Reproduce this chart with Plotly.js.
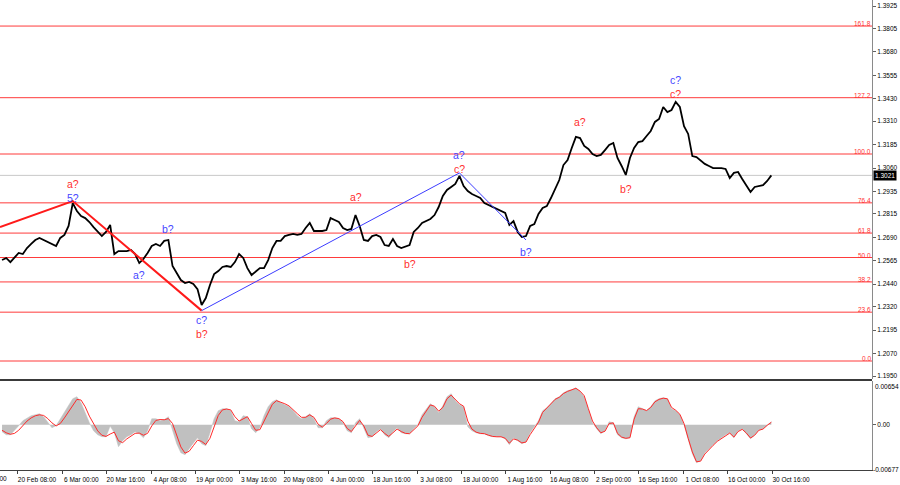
<!DOCTYPE html>
<html>
<head>
<meta charset="utf-8">
<script src="https://cdn.plot.ly/plotly-3.0.1.min.js"></script>
<style>
  html, body { margin: 0; padding: 0; background: #fff; }
  #chart { width: 900px; height: 485px; }
</style>
</head>
<body>
<div id="chart"></div>
<script>
// ---------- DATA ----------
// daily closes, one per trading day starting 2024-02-14
const close = [
1.2569,1.2580,1.2558,1.2585,1.2607,1.2601,1.2633,1.2655,1.2676,1.2687,
1.2676,1.2665,1.2655,1.2644,1.2687,1.2703,1.2751,1.2873,1.2831,1.2804,
1.2793,1.2772,1.2745,1.2719,1.2697,1.2719,1.2756,1.2601,1.2617,1.2617,
1.2617,1.2623,1.2601,1.2553,1.2575,1.2607,1.2644,1.2655,1.2644,1.2671,
1.2676,1.2537,1.2500,1.2462,1.2446,1.2452,1.2441,1.2414,1.2329,1.2366,
1.2436,1.2494,1.2510,1.2532,1.2537,1.2532,1.2558,1.2601,1.2580,1.2526,
1.2489,1.2510,1.2526,1.2526,1.2569,1.2633,1.2671,1.2671,1.2697,1.2703,
1.2708,1.2703,1.2708,1.2740,1.2767,1.2724,1.2724,1.2724,1.2729,1.2793,
1.2783,1.2772,1.2740,1.2729,1.2735,1.2809,1.2751,1.2676,1.2671,1.2697,
1.2703,1.2692,1.2649,1.2644,1.2681,1.2644,1.2633,1.2639,1.2649,1.2719,
1.2740,1.2767,1.2777,1.2788,1.2809,1.2852,1.2911,1.2943,1.2959,1.2975,
1.3018,1.2964,1.2937,1.2921,1.2911,1.2900,1.2873,1.2863,1.2852,1.2841,
1.2831,1.2820,1.2756,1.2777,1.2719,1.2692,1.2697,1.2751,1.2761,1.2815,
1.2847,1.2857,1.2900,1.2953,1.2996,1.3076,1.3103,1.3167,1.3226,1.3220,
1.3178,1.3162,1.3135,1.3124,1.3130,1.3156,1.3183,1.3194,1.3114,1.3071,
1.3023,1.3114,1.3167,1.3199,1.3204,1.3231,1.3258,1.3306,1.3322,1.3386,
1.3359,1.3370,1.3413,1.3386,1.3284,1.3242,1.3124,1.3119,1.3098,1.3082,
1.3071,1.3060,1.3060,1.3060,1.3055,1.3007,1.3034,1.3039,1.3002,1.2969,
1.2932,1.2959,1.2964,1.2969,1.2991,1.3021
];
const firstDay = '2024-02-14';
const lastPrice = 1.3021;

// MACD histogram and signal line
const macdHist = [
-0.00104,-0.00150,-0.00150,-0.00090,-0.00015,0.00060,0.00104,0.00135,0.00150,0.00164,
0.00120,0.00030,-0.00045,-0.00015,0.00090,0.00179,0.00284,0.00389,0.00419,0.00329,
0.00179,0.00030,-0.00090,-0.00150,-0.00179,-0.00179,-0.00020,-0.00120,-0.00329,-0.00239,
-0.00179,-0.00150,-0.00104,-0.00135,-0.00195,-0.00090,0.00090,0.00090,0.00060,0.00075,
0.00120,-0.00090,-0.00284,-0.00419,-0.00449,-0.00359,-0.00270,-0.00195,-0.00284,-0.00314,
-0.00120,0.00090,0.00210,0.00239,0.00239,0.00210,0.00060,0.00045,0.00135,0.00120,
-0.00060,-0.00120,-0.00045,0.00135,0.00270,0.00344,0.00374,0.00329,0.00299,0.00270,
0.00210,0.00135,0.00090,0.00120,0.00164,0.00090,-0.00045,-0.00045,0.00060,0.00104,
0.00104,0.00090,0.00030,-0.00090,-0.00120,0.00030,0.00090,-0.00060,-0.00195,-0.00179,
-0.00104,-0.00060,-0.00150,-0.00195,-0.00104,-0.00045,-0.00120,-0.00135,-0.00135,-0.00060,
0.00000,0.00150,0.00239,0.00314,0.00270,0.00179,0.00284,0.00419,0.00464,0.00359,
0.00299,0.00270,-0.00030,-0.00090,-0.00120,-0.00135,-0.00135,-0.00164,-0.00179,-0.00179,
-0.00179,-0.00210,-0.00299,-0.00195,-0.00239,-0.00284,-0.00254,-0.00120,-0.00030,0.00060,
0.00210,0.00254,0.00314,0.00389,0.00419,0.00478,0.00509,0.00524,0.00553,0.00494,
0.00419,0.00210,0.00030,-0.00060,-0.00135,-0.00090,0.00045,0.00030,-0.00150,-0.00195,
-0.00210,-0.00195,0.00120,0.00270,0.00239,0.00210,0.00270,0.00359,0.00389,0.00404,
0.00389,0.00239,0.00210,0.00150,0.00000,-0.00239,-0.00434,-0.00569,-0.00538,-0.00419,
-0.00359,-0.00299,-0.00239,-0.00195,-0.00150,-0.00120,-0.00195,-0.00090,-0.00060,-0.00135,
-0.00210,-0.00150,-0.00075,-0.00060,0.00000,0.00045
];
const macdSignal = [
-0.00083,-0.00120,-0.00143,-0.00129,-0.00083,-0.00009,0.00055,0.00102,0.00134,0.00148,
0.00139,0.00092,0.00028,-0.00018,0.00018,0.00102,0.00194,0.00305,0.00379,0.00369,
0.00268,0.00129,0.00009,-0.00092,-0.00157,-0.00175,-0.00139,-0.00111,-0.00240,-0.00268,
-0.00212,-0.00166,-0.00129,-0.00125,-0.00157,-0.00129,-0.00018,0.00065,0.00078,0.00074,
0.00092,0.00018,-0.00166,-0.00332,-0.00425,-0.00397,-0.00314,-0.00231,-0.00249,-0.00296,
-0.00203,-0.00028,0.00139,0.00222,0.00235,0.00222,0.00120,0.00055,0.00092,0.00120,
0.00018,-0.00083,-0.00074,0.00055,0.00194,0.00305,0.00360,0.00342,0.00314,0.00282,
0.00231,0.00166,0.00111,0.00111,0.00148,0.00111,0.00009,-0.00037,0.00018,0.00083,
0.00102,0.00092,0.00046,-0.00055,-0.00102,-0.00018,0.00065,-0.00018,-0.00157,-0.00175,
-0.00120,-0.00074,-0.00129,-0.00175,-0.00120,-0.00065,-0.00102,-0.00129,-0.00134,-0.00078,
-0.00018,0.00111,0.00212,0.00296,0.00277,0.00203,0.00259,0.00388,0.00443,0.00379,
0.00314,0.00277,0.00055,-0.00065,-0.00111,-0.00129,-0.00134,-0.00157,-0.00175,-0.00180,
-0.00180,-0.00203,-0.00277,-0.00212,-0.00231,-0.00272,-0.00259,-0.00148,-0.00055,0.00037,
0.00185,0.00245,0.00305,0.00379,0.00411,0.00466,0.00499,0.00517,0.00545,0.00503,
0.00434,0.00240,0.00055,-0.00046,-0.00120,-0.00097,0.00018,0.00028,-0.00129,-0.00185,
-0.00203,-0.00194,0.00083,0.00240,0.00235,0.00212,0.00259,0.00342,0.00379,0.00397,
0.00388,0.00259,0.00217,0.00157,0.00018,-0.00203,-0.00406,-0.00554,-0.00545,-0.00439,
-0.00369,-0.00309,-0.00249,-0.00203,-0.00157,-0.00125,-0.00185,-0.00102,-0.00069,-0.00125,
-0.00199,-0.00157,-0.00083,-0.00065,-0.00009,0.00037
];

// Fibonacci grid
const fibRatios = [0.0, 23.6, 38.2, 50.0, 61.8, 76.4, 100.0, 127.2, 161.8];
const fibLow = 1.2030;
const fibHigh = 1.3135;

// price axis labels
const priceTicks = [1.3925,1.3805,1.3680,1.3555,1.3430,1.3310,1.3185,1.3060,1.2935,1.2815,1.2690,1.2565,1.2440,1.2320,1.2195,1.2070,1.1950];

// time axis labels
const timeTicks = ['2024-02-20 08:00','2024-03-06 00:00','2024-03-20 16:00','2024-04-04 08:00','2024-04-19 00:00','2024-05-03 16:00','2024-05-20 08:00','2024-06-04 00:00','2024-06-18 16:00','2024-07-03 08:00','2024-07-18 00:00','2024-08-01 16:00','2024-08-16 08:00','2024-09-02 00:00','2024-09-16 16:00','2024-10-01 08:00','2024-10-16 00:00','2024-10-30 16:00'];
const timeLabels = ['20 Feb 08:00','6 Mar 00:00','20 Mar 16:00','4 Apr 08:00','19 Apr 00:00','3 May 16:00','20 May 08:00','4 Jun 00:00','18 Jun 16:00','3 Jul 08:00','18 Jul 00:00','1 Aug 16:00','16 Aug 08:00','2 Sep 00:00','16 Sep 16:00','1 Oct 08:00','16 Oct 00:00','30 Oct 16:00'];

// wave pivots (index into the daily series, price)
const redWaveIdx = [17, 48];
const redWavePrice = [1.2745, 1.2884, 1.2299];
const blueWaveIdx = [48, 110, 126];
const blueWavePrice = [1.2299, 1.3034, 1.2676];

// ---------- build ----------
function tradingDays(start, n) {
  const out = [];
  const d = new Date(start + 'T12:00:00Z');
  while (out.length < n) {
    const wd = d.getUTCDay();
    if (wd !== 0 && wd !== 6) out.push(d.toISOString().slice(0, 10) + ' 12:00');
    d.setUTCDate(d.getUTCDate() + 1);
  }
  return out;
}
const dates = tradingDays(firstDay, close.length);
const xRange = ['2024-02-14 00:10', '2024-12-03 17:00'];

const RED = '#ff2f2f', BLUE = '#4646ff';
const FAM = 'Liberation Sans, Arial, sans-serif';

// wave labels: [text, colour, day index, price, anchor]
const waveLabels = [
  ['a?', RED, 17, 1.2935, 'bottom'], ['5?', BLUE, 17, 1.2935, 'top'],
  ['a?', BLUE, 33, 1.2489, 'middle'], ['b?', BLUE, 40, 1.2735, 'middle'],
  ['c?', BLUE, 48, 1.2214, 'bottom'], ['b?', RED, 48, 1.2214, 'top'],
  ['a?', RED, 85, 1.2905, 'middle'], ['b?', RED, 98, 1.2548, 'middle'],
  ['a?', BLUE, 110, 1.3090, 'bottom'], ['c?', RED, 110, 1.3090, 'top'],
  ['b?', BLUE, 126, 1.2612, 'middle'], ['a?', RED, 139, 1.3306, 'middle'],
  ['b?', RED, 150, 1.2948, 'middle'], ['c?', BLUE, 162, 1.3493, 'bottom'], ['c?', RED, 162, 1.3493, 'top']
];

const traces = [
  { x: dates, y: macdHist, type: 'scatter', mode: 'lines', xaxis: 'x', yaxis: 'y2',
    fill: 'tozeroy', fillcolor: '#c0c0c0', line: { color: '#c0c0c0', width: 0.5 }, hoverinfo: 'skip' },
  { x: dates, y: macdSignal, type: 'scatter', mode: 'lines', xaxis: 'x', yaxis: 'y2',
    line: { color: '#ff2a2a', width: 1 }, hoverinfo: 'skip' },
  { x: dates, y: close, type: 'scatter', mode: 'lines', xaxis: 'x', yaxis: 'y',
    line: { color: '#000000', width: 1.8 }, hoverinfo: 'skip' },
  { x: [xRange[0], dates[redWaveIdx[0]], dates[redWaveIdx[1]]], y: redWavePrice,
    type: 'scatter', mode: 'lines', xaxis: 'x', yaxis: 'y',
    line: { color: '#ff1a1a', width: 2 }, hoverinfo: 'skip' },
  { x: blueWaveIdx.map(i => dates[i]), y: blueWavePrice,
    type: 'scatter', mode: 'lines', xaxis: 'x', yaxis: 'y',
    line: { color: '#3c3cff', width: 1 }, hoverinfo: 'skip' }
];

const shapes = [];
const annotations = [];
const axFont = { family: FAM, size: 6.5, color: '#000' };

fibRatios.forEach(r => {
  const lv = fibLow + (fibHigh - fibLow) * r / 100;
  shapes.push({ type: 'line', xref: 'paper', x0: 0, x1: 1, yref: 'y', y0: lv, y1: lv,
    line: { color: '#ff3b3b', width: 1 }, layer: 'below' });
  annotations.push({ text: r.toFixed(1), xref: 'paper', x: 1, xanchor: 'right', xshift: 0,
    yref: 'y', y: lv, yanchor: 'bottom', yshift: -2, showarrow: false, borderpad: 0,
    font: { family: FAM, size: 6.5, color: '#ff3030' } });
});
// current price line
shapes.push({ type: 'line', xref: 'paper', x0: 0, x1: 1, yref: 'y', y0: lastPrice, y1: lastPrice,
  line: { color: '#c8c8c8', width: 1 }, layer: 'below' });
// panel separator
shapes.push({ type: 'line', xref: 'paper', x0: 0, x1: 1, yref: 'paper', y0: 1 - 380 / 470, y1: 1 - 380 / 470,
  line: { color: '#3a3a3a', width: 2 } });

annotations.push({ text: lastPrice.toFixed(4), xref: 'paper', x: 1, xanchor: 'left', xshift: 1,
  yref: 'y', y: lastPrice, yanchor: 'middle', showarrow: false, bgcolor: '#000', borderpad: 1,
  font: { family: FAM, size: 6.5, color: '#fff' } });
annotations.push({ text: '0.00654', xref: 'paper', x: 1, xanchor: 'left', xshift: 2,
  yref: 'y2', y: 0.00654, yanchor: 'top', yshift: -1, borderpad: 0, showarrow: false, font: axFont });
annotations.push({ text: '-0.00677', xref: 'paper', x: 1, xanchor: 'left', xshift: 0,
  yref: 'y2', y: -0.00677, yanchor: 'bottom', yshift: -4, borderpad: 0, showarrow: false, font: axFont });
annotations.push({ text: '6 Feb 16:00', xref: 'paper', x: 0, xanchor: 'right', xshift: 9,
  yref: 'paper', y: 0, yanchor: 'top', yshift: -3, showarrow: false, font: axFont });

waveLabels.forEach(w => {
  annotations.push({ text: w[0], xref: 'x', x: dates[w[2]], yref: 'y', y: w[3],
    xanchor: 'center', yanchor: w[4], showarrow: false, borderpad: 0,
    font: { family: FAM, size: 10.5, color: w[1] } });
});

const layout = {
  width: 900, height: 485,
  margin: { l: 0, r: 28, t: 0, b: 15, pad: 0 },
  paper_bgcolor: '#ffffff', plot_bgcolor: '#ffffff',
  showlegend: false,
  font: axFont,
  xaxis: {
    type: 'date', range: xRange, rangebreaks: [{ bounds: ['sat', 'mon'] }],
    tickmode: 'array', tickvals: timeTicks, ticktext: timeLabels,
    ticks: 'outside', ticklen: 3, tickcolor: '#404040', tickwidth: 1,
    showline: true, linecolor: '#404040', linewidth: 1,
    showgrid: false, zeroline: false, anchor: 'y2', ticklabelshift: 19,
    tickfont: axFont, fixedrange: true
  },
  yaxis: {
    domain: [1 - 379 / 470, 1], range: [1.1934, 1.3957], side: 'right', anchor: 'x',
    tickmode: 'array', tickvals: priceTicks, ticktext: priceTicks.map(v => v.toFixed(4)),
    ticks: 'outside', ticklen: 3, tickcolor: '#606060',
    showline: true, linecolor: '#8a8a8a', linewidth: 1,
    showgrid: false, zeroline: false, tickfont: axFont, fixedrange: true
  },
  yaxis2: {
    domain: [0, (470 - 381) / 470], range: [-0.00677, 0.00654], side: 'right', anchor: 'x',
    tickmode: 'array', tickvals: [0], ticktext: ['0.00'],
    ticks: 'outside', ticklen: 3, tickcolor: '#606060',
    showline: true, linecolor: '#8a8a8a', linewidth: 1,
    showgrid: false, zeroline: false, tickfont: axFont, fixedrange: true
  },
  shapes: shapes,
  annotations: annotations
};

Plotly.newPlot('chart', traces, layout, { staticPlot: true, displayModeBar: false });
</script>
</body>
</html>
